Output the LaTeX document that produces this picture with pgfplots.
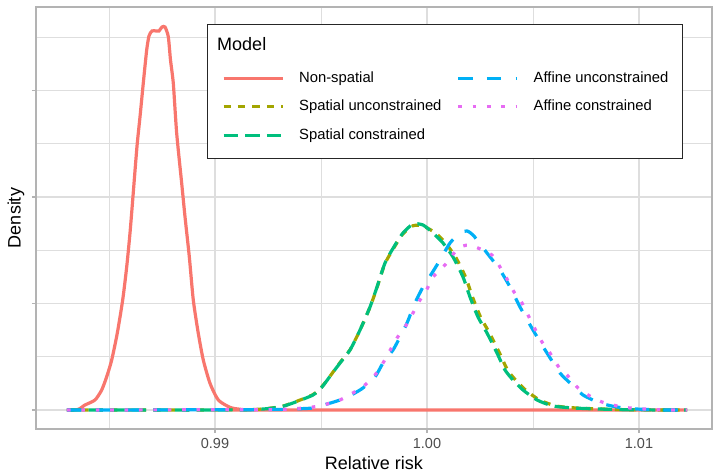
\documentclass[border=0pt]{standalone}
\usepackage{fontspec}
\setmainfont{Liberation Sans}
\usepackage{pgfplots}
\pgfplotsset{compat=1.18}

\definecolor{cRed}{HTML}{F8766D}
\definecolor{cOlive}{HTML}{A3A500}
\definecolor{cGreen}{HTML}{00BF7D}
\definecolor{cBlue}{HTML}{00B0F6}
\definecolor{cPink}{HTML}{E76BF3}
\definecolor{gridc}{HTML}{DEDEDE}
\definecolor{borderc}{HTML}{B3B3B3}
\definecolor{tickc}{HTML}{4D4D4D}

\pgfplotsset{
  nonspatial/.style={cRed, line width=3.2bp, solid},
  spunc/.style={cOlive, line width=3.2bp, dash pattern=on 7.2bp off 7.2bp},
  spcon/.style={cGreen, line width=3.2bp, dash pattern=on 14.4bp off 7.2bp},
  afunc/.style={cBlue, line width=3.2bp, dash pattern=on 14.4bp off 14.4bp},
  afcon/.style={cPink, line width=3.2bp, dash pattern=on 3.6bp off 10.8bp},
}

\begin{document}
\begin{tikzpicture}
\begin{axis}[
  at={(0,0)}, anchor=south west,
  scale only axis, width=676bp, height=422bp,
  xmin=0.981557, xmax=1.013443, ymin=-17.84, ymax=378.4,
  xtick={0.99,1.00,1.01}, xticklabels={0.99,1.00,1.01},
  minor xtick={0.985,0.995,1.005},
  ytick={0,100,200,300}, yticklabels={},
  minor ytick={50,150,250,350},
  grid=both,
  major grid style={draw=gridc, line width=1.1bp},
  minor grid style={draw=gridc, line width=0.7bp},
  axis line style={draw=borderc, line width=1.6bp},
  tick style={draw=borderc, line width=1.1bp},
  major tick length=4bp, minor tick length=0pt,
  tick align=outside,
  xtick pos=bottom, ytick pos=left,
  xticklabel style={font=\fontsize{14.5bp}{17bp}\selectfont, text=tickc, inner sep=0pt, anchor=north, yshift=-5bp},
  xlabel={Relative risk}, ylabel={Density},
  every axis x label/.style={at={(rel axis cs:0.5,-0.0806)}, anchor=center, font=\fontsize{18bp}{21bp}\selectfont},
  every axis y label/.style={at={(rel axis cs:-0.0296,0.5)}, anchor=center, rotate=90, font=\fontsize{18bp}{21bp}\selectfont},
  legend columns=2,
  legend cell align=left,
  legend image code/.code={\draw[#1] (0bp,0bp) -- (59bp,0bp);},
  legend style={at={(rel axis cs:0.2751,0.8480)}, anchor=north west, draw=none, fill=none,
    inner sep=0pt, outer sep=0pt, column sep=15bp, row sep=14bp,
    font=\fontsize{14.8bp}{18bp}\selectfont,
    nodes={inner sep=0pt, text height=11bp, text depth=3.5bp}},
]

% Non-spatial
\addplot[nonspatial, smooth, tension=0.4, forget plot] coordinates {
(0.983019,0) (0.983538,0.5) (0.983868,4.7) (0.984340,9.4) (0.984656,18.8) (0.984892,31.3)
(0.985127,46.9) (0.985392,72.3) (0.985646,103.3) (0.985835,134.3) (0.985991,166.2)
(0.986118,197.2) (0.986241,228.2) (0.986335,250.7) (0.986462,275.1) (0.986618,307.0)
(0.986778,338.0) (0.986887,351.2) (0.987028,355.9) (0.987217,355.9) (0.987358,355.9)
(0.987500,359.6) (0.987642,359.6) (0.987797,350.5) (0.987901,328.6) (0.988033,306.8)
(0.988193,259.8) (0.988429,212.9) (0.988585,181.5) (0.988788,143.9) (0.988976,103.3)
(0.989212,72.0) (0.989448,46.9) (0.989764,25.1) (0.990156,9.4) (0.990708,2.5)
(0.991179,0.7) (0.991887,0) (1.012264,0)
};

% Spatial unconstrained
\addplot[spunc, smooth, tension=0.4, forget plot] coordinates {
(0.983019,0) (0.990708,0.1) (0.992123,0.8) (0.993066,3.0) (0.993679,6.8) (0.994623,14.5)
(0.995047,22.0) (0.995472,33.0) (0.995896,44.5) (0.996368,56.5) (0.996840,75.0)
(0.997311,96.5) (0.997642,115.0) (0.998019,137.5) (0.998491,154.0) (0.998868,165.5)
(0.999340,173.0) (0.999811,172.8) (1.000401,166.2) (1.000873,156.8) (1.001344,143.7)
(1.001816,124.9) (1.002146,106.1) (1.002524,87.3) (1.002948,72.3) (1.003420,53.5)
(1.003797,37.6) (1.004175,28.2) (1.004646,18.8) (1.005307,9.4) (1.006085,3.8)
(1.007028,1.9) (1.008302,0.9) (1.009717,0.2) (1.012264,0)
};

% Spatial constrained
\addplot[spcon, smooth, tension=0.4, forget plot] coordinates {
(0.983019,0) (0.990708,0.1) (0.992123,0.7) (0.993066,2.8) (0.993679,6.6) (0.994623,14.1)
(0.995047,21.6) (0.995472,32.9) (0.995896,44.1) (0.996368,56.3) (0.996840,75.1)
(0.997311,96.7) (0.997642,115.5) (0.998019,138.0) (0.998491,154.9) (0.998868,166.2)
(0.999340,174.6) (0.999811,173.7) (1.000283,166.2) (1.000755,156.8) (1.001226,143.7)
(1.001698,124.9) (1.002028,106.1) (1.002406,87.3) (1.002830,72.3) (1.003302,53.5)
(1.003679,37.6) (1.004057,28.2) (1.004528,18.8) (1.005189,9.4) (1.005943,3.8)
(1.006887,1.9) (1.008160,0.9) (1.009575,0.2) (1.012264,0)
};

% Affine unconstrained
\addplot[afunc, smooth, tension=0.4, forget plot] coordinates {
(0.983019,0) (0.992123,0.3) (0.993538,0.9) (0.994623,1.9) (0.995283,5.6) (0.995896,9.4)
(0.996509,15.0) (0.996981,20.7) (0.997547,31.0) (0.997925,44.1) (0.998396,56.3)
(0.998726,68.5) (0.999057,81.7) (0.999434,100.5) (0.999811,115.5) (1.000236,128.6)
(1.000613,140.8) (1.001085,156.8) (1.001557,166.2) (1.001887,168.1) (1.002170,164.3)
(1.002500,155.9) (1.002830,147.4) (1.003443,131.5) (1.003915,115.5) (1.004387,96.7)
(1.005000,75.1) (1.005660,53.5) (1.006274,34.7) (1.006745,25.4) (1.007358,14.1)
(1.008160,6.6) (1.008962,2.8) (1.009906,0.9) (1.010991,0.1) (1.012264,0)
};

% Affine constrained
\addplot[afcon, smooth, tension=0.4, forget plot] coordinates {
(0.983019,0) (0.992123,0.3) (0.993538,0.9) (0.994623,2.8) (0.995283,5.6) (0.995896,9.4)
(0.996509,16.0) (0.997075,23.5) (0.997547,32.9) (0.997925,44.1) (0.998585,67.6)
(0.998962,77.9) (0.999340,91.1) (0.999670,103.3) (1.000000,113.6) (1.000283,124.9)
(1.000849,136.2) (1.001321,148.4) (1.001698,154.0) (1.002028,154.9) (1.002406,152.1)
(1.003066,145.5) (1.003443,134.3) (1.003774,123.0) (1.004104,110.8) (1.004481,100.5)
(1.004811,87.3) (1.005094,76.1) (1.005425,63.8) (1.005802,53.5) (1.006179,41.3)
(1.006604,32.9) (1.007075,21.6) (1.007594,14.1) (1.008255,7.5) (1.008962,3.8)
(1.009575,1.9) (1.010991,0.2) (1.012264,0)
};

% legend frame and title
\draw[black!85, line width=0.9bp, fill=white] (rel axis cs:0.253,0.642) rectangle (rel axis cs:0.957,0.9597);
\node[anchor=west, inner sep=0pt, font=\fontsize{18bp}{21bp}\selectfont] at (rel axis cs:0.2678,0.9123) {Model};

\addlegendimage{nonspatial}
\addlegendentry{Non-spatial}
\addlegendimage{afunc}
\addlegendentry{Affine unconstrained}
\addlegendimage{spunc}
\addlegendentry{Spatial unconstrained}
\addlegendimage{afcon}
\addlegendentry{Affine constrained}
\addlegendimage{spcon}
\addlegendentry{Spatial constrained}
\end{axis}
\pgfresetboundingbox
\path (-36bp,-43bp) rectangle (678bp,429bp);
\end{tikzpicture}
\end{document}
